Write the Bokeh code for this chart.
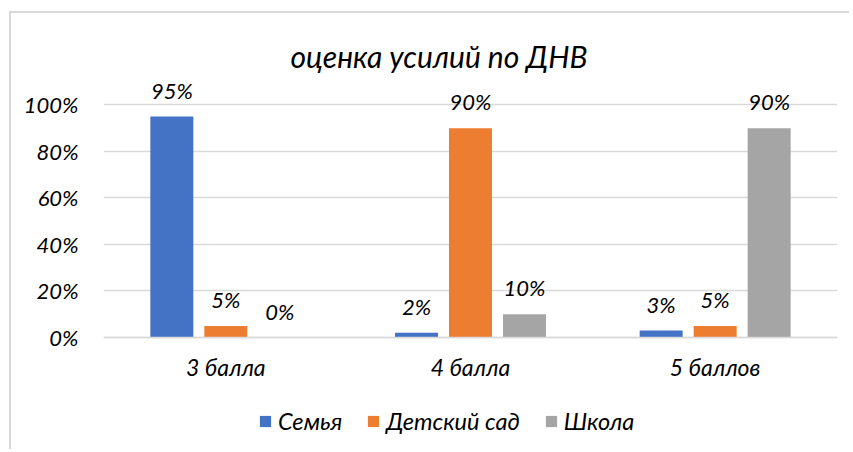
from bokeh.plotting import figure
from bokeh.models import (ColumnDataSource, FixedTicker, NumeralTickFormatter, LabelSet,
                          Label, Legend, LegendItem, Range1d, FactorRange)
from bokeh.transform import dodge
from bokeh.core.properties import value
from bokeh.embed import file_html
from bokeh.resources import INLINE

title_text = "оценка усилий по ДНВ"
categories = ["3 балла", "4 балла", "5 баллов"]
series_names = ["Семья", "Детский сад", "Школа"]
semya = [0.95, 0.02, 0.03]
detsad = [0.05, 0.90, 0.05]
shkola = [0.00, 0.10, 0.90]
colors = ["#4472C4", "#ED7D31", "#A5A5A5"]
y_ticks = [0, 0.2, 0.4, 0.6, 0.8, 1.0]

FONT = "Lato"
TXT = "#000000"

p = figure(width=840, height=438, x_range=FactorRange(*categories),
           y_range=Range1d(-0.4903, 1.372),
           output_backend="svg", toolbar_location=None, title=None,
           min_border_left=92, min_border_right=14, min_border_top=5, min_border_bottom=0,
           styles={"margin-left": "9px", "margin-top": "11px",
                   "border-left": "2px solid #d9d9d9", "border-top": "2px solid #d9d9d9"})
p.outline_line_color = None

src = ColumnDataSource(dict(cat=categories, s0=semya, s1=detsad, s2=shkola,
                            l0=[f"{round(v*100)}%" for v in semya],
                            l1=[f"{round(v*100)}%" for v in detsad],
                            l2=[f"{round(v*100)}%" for v in shkola]))

step = 0.2207
bw = 0.1757
renderers = []
for i, (col, lab) in enumerate([("s0", "l0"), ("s1", "l1"), ("s2", "l2")]):
    off = (i - 1) * step
    r = p.vbar(x=dodge("cat", off, range=p.x_range), top=col, width=bw, source=src,
               fill_color=colors[i], line_color=None)
    renderers.append(r)
    ls = LabelSet(x=dodge("cat", off, range=p.x_range), y=col, text=lab, source=src,
                  text_align="center", text_baseline="bottom", y_offset=13,
                  text_font=value(FONT), text_font_style="italic", text_font_size="22px",
                  text_color=TXT)
    p.add_layout(ls)

p.yaxis.ticker = FixedTicker(ticks=y_ticks)
p.yaxis.formatter = NumeralTickFormatter(format="0%")
p.yaxis.axis_line_color = None
p.yaxis.major_tick_line_color = None
p.yaxis.major_tick_out = 0
p.yaxis.minor_tick_line_color = None
p.yaxis.major_label_standoff = 25
p.yaxis.major_label_text_font = FONT
p.yaxis.major_label_text_font_style = "italic"
p.yaxis.major_label_text_font_size = "22px"
p.yaxis.major_label_text_color = TXT

p.xaxis.fixed_location = 0
p.xaxis.axis_line_color = "#d9d9d9"
p.xaxis.axis_line_width = 1.5
p.xaxis.major_tick_line_color = None
p.xaxis.major_tick_out = 0
p.xaxis.minor_tick_line_color = None
p.xaxis.major_label_standoff = 15
p.xaxis.major_label_text_font = FONT
p.xaxis.major_label_text_font_style = "italic"
p.xaxis.major_label_text_font_size = "23px"
p.xaxis.major_label_text_color = TXT

p.xgrid.grid_line_color = None
p.ygrid.grid_line_color = "#d9d9d9"
p.ygrid.grid_line_width = 1.5

title = Label(x=335.5, y=396, x_units="screen", y_units="screen", text=title_text,
              text_align="center", text_baseline="middle",
              text_font=FONT, text_font_style="italic", text_font_size="30px",
              text_color=TXT)
p.add_layout(title)

legend = Legend(items=[LegendItem(label=series_names[i], renderers=[renderers[i]]) for i in range(3)],
                orientation="horizontal", location=(155, 16),
                glyph_width=14, glyph_height=14, label_standoff=6, spacing=24,
                padding=0, margin=0, border_line_color=None, background_fill_alpha=0,
                label_text_font=FONT, label_text_font_style="italic",
                label_text_font_size="23.5px", label_text_color=TXT)
p.add_layout(legend, "center")

open("out.html", "w").write(file_html(p, INLINE))
